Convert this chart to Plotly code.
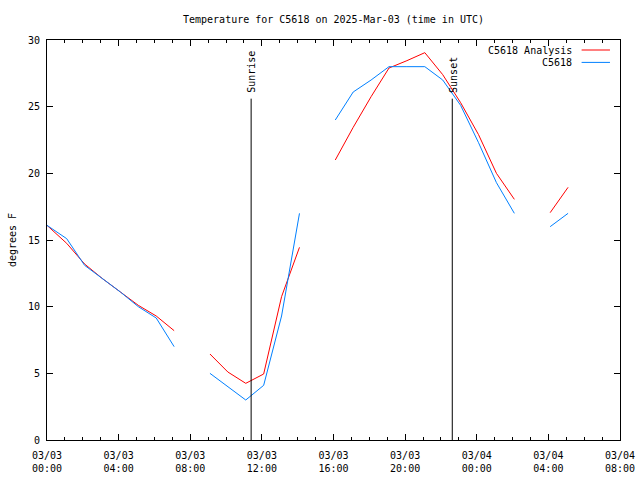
import plotly.graph_objects as go

# ---- data ----
times = [
    "2025-03-03 00:00", "2025-03-03 01:06", "2025-03-03 02:06", "2025-03-03 03:06",
    "2025-03-03 04:06", "2025-03-03 05:06", "2025-03-03 06:06", "2025-03-03 07:06",
    "2025-03-03 08:06",
    "2025-03-03 09:06", "2025-03-03 10:06", "2025-03-03 11:06", "2025-03-03 12:06",
    "2025-03-03 13:06", "2025-03-03 14:06",
    "2025-03-03 15:06",
    "2025-03-03 16:06", "2025-03-03 17:06", "2025-03-03 18:06", "2025-03-03 19:06",
    "2025-03-03 20:06", "2025-03-03 21:06", "2025-03-03 22:06", "2025-03-03 23:06",
    "2025-03-04 00:06", "2025-03-04 01:06", "2025-03-04 02:06",
    "2025-03-04 03:06",
    "2025-03-04 04:06", "2025-03-04 05:06",
]
analysis = [16.1, 14.75, 13.2, 12.1, 11.1, 10.1, 9.3, 8.2,
            None,
            6.45, 5.1, 4.25, 4.95, 10.75, 14.45,
            None,
            21.0, 23.45, 25.75, 27.9, 28.45, 29.05, 27.4, 25.3, 22.9, 20.0, 18.05,
            None,
            17.05, 18.95]
observed = [16.1, 15.1, 13.1, 12.1, 11.1, 10.0, 9.15, 7.0,
            None,
            5.0, 4.0, 3.0, 4.1, 9.3, 17.0,
            None,
            24.0, 26.1, 27.0, 28.0, 28.0, 28.0, 27.0, 25.1, 22.3, 19.3, 17.0,
            None,
            16.0, 17.0]
series_names = ["C5618 Analysis", "C5618"]
series_colors = ["#ff0000", "#0080ff"]
sunrise = "2025-03-03 11:24"
sunset = "2025-03-03 22:38"
marker_top = 25.6
x_range = ["2025-03-03 00:00", "2025-03-04 08:00"]
y_range = [0, 30]
title = "Temperature for C5618 on 2025-Mar-03 (time in UTC)"
ylabel = "degrees F"

FONT = "DejaVu Sans Mono"
fig = go.Figure()
for name, vals, col in zip(series_names, [analysis, observed], series_colors):
    fig.add_trace(go.Scatter(x=times, y=vals, mode="lines", name=name,
                             line=dict(color=col, width=1), connectgaps=False,
                             showlegend=False, hoverinfo="skip"))

# sunrise / sunset markers
for t, label in [(sunrise, "Sunrise"), (sunset, "Sunset")]:
    fig.add_shape(type="line", x0=t, x1=t, y0=0, y1=marker_top, xref="x", yref="y",
                  line=dict(color="black", width=1))
    fig.add_annotation(x=t, y=marker_top, xref="x", yref="y", text=label,
                       textangle=-90, showarrow=False, xanchor="center",
                       yanchor="bottom", yshift=4, xshift=1,
                       font=dict(family=FONT, size=10, color="black"))

# legend drawn gnuplot-style (text then sample line)
leg_rows = [0.975, 0.944]
for name, col, yy in zip(series_names, series_colors, leg_rows):
    fig.add_annotation(x=0.92, y=yy, xref="paper", yref="paper", text=name,
                       showarrow=False, xanchor="right", yanchor="middle",
                       font=dict(family=FONT, size=10, color="black"))
    fig.add_shape(type="line", x0=0.933, x1=0.9825, y0=yy, y1=yy,
                  xref="paper", yref="paper", line=dict(color=col, width=1))

fig.update_layout(
    width=640, height=480,
    margin=dict(l=47, r=20, t=40, b=40, autoexpand=False),
    paper_bgcolor="white", plot_bgcolor="white",
    title=dict(text=title, x=(47 + 620) / 2 / 640, xanchor="center", y=0.96,
               yanchor="middle", font=dict(family=FONT, size=10, color="black")),
    font=dict(family=FONT, size=10, color="black"),
    showlegend=False,
)
fig.update_xaxes(
    type="date", range=x_range, dtick=4 * 3600000, tick0="2025-03-03 00:00",
    tickformat="%m/%d<br>%H:%M", ticks="inside", ticklen=6, tickcolor="black",
    showline=True, linecolor="black", linewidth=1, mirror="allticks",
    showgrid=False, zeroline=False, automargin=False, ticklabelstandoff=6,
    minor=dict(ticks="inside", dtick=3600000, ticklen=3, tickcolor="black", showgrid=False),
    tickfont=dict(family=FONT, size=10, color="black"),
)
fig.update_yaxes(
    range=y_range, dtick=5, ticks="inside", ticklen=6, tickcolor="black",
    showline=True, linecolor="black", linewidth=1, mirror="allticks",
    showgrid=False, zeroline=False, automargin=False, ticklabelstandoff=4,
    title=dict(text=ylabel, font=dict(family=FONT, size=10, color="black"), standoff=9),
    tickfont=dict(family=FONT, size=10, color="black"),
)

fig.write_html("out.html", config={"displayModeBar": False},
               post_script="document.body.style.margin='0';document.body.style.overflow='hidden';")
